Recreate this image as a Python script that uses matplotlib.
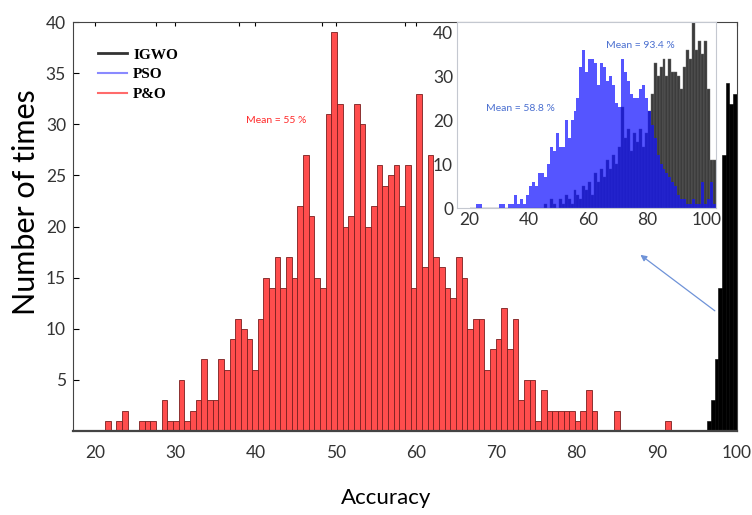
import numpy as np
import matplotlib
matplotlib.use("Agg")
import matplotlib.pyplot as plt
from matplotlib.lines import Line2D

# P&O histogram: 100 bins between the min and max accuracy
po_start, po_width = 23.86, 0.682
po_counts = [1, 0, 1, 2, 0, 0, 1, 1, 1, 0,
             3, 1, 1, 5, 1, 2, 3, 7, 3, 3,
             7, 6, 9, 11, 10, 9, 6, 11, 15, 14,
             17, 14, 17, 15, 22, 27, 21, 15, 14, 31,
             39, 32, 20, 21, 32, 30, 20, 22, 26, 24,
             25, 26, 22, 26, 14, 33, 16, 27, 17, 16,
             14, 13, 17, 15, 10, 11, 11, 6, 8, 9,
             12, 8, 11, 3, 5, 5, 1, 4, 2, 2,
             2, 2, 2, 1, 2, 4, 2, 0, 0, 0,
             2, 0, 0, 0, 0, 0, 0, 0, 0, 1]

# IGWO in the main axes, squeezed against 100 %
igwo_start, igwo_width = 96.4, 0.45
igwo_counts = [1, 3, 7, 14, 27, 34, 32, 33]

# zoomed view: one-unit bins from 20 to 104
zoom_start = 20
pso_zoom = [0, 0, 1, 1, 0, 0, 0, 0, 0, 0,
            1, 1, 0, 1, 1, 3, 1, 2, 1, 3,
            5, 6, 5, 8, 8, 7, 10, 14, 13, 17,
            14, 14, 20, 16, 20, 22, 25, 32, 36, 31,
            34, 34, 33, 28, 33, 32, 29, 30, 28, 24,
            23, 34, 31, 29, 26, 25, 25, 27, 28, 25,
            22, 19, 16, 12, 10, 9, 8, 7, 6, 5,
            3, 2, 2, 1, 1, 2, 1, 1, 6, 1,
            2, 6, 1, 0]
igwo_zoom = [0] * 25 + [
            1, 0, 2, 1, 0, 2, 1, 3, 2, 1,
            4, 3, 2, 5, 4, 6, 3, 8, 6, 9,
            7, 11, 9, 12, 10, 14, 23, 16, 18, 13,
            17, 15, 18, 14, 17, 22, 26, 33, 30, 32,
            34, 30, 34, 31, 31, 30, 27, 32, 36, 34,
            45, 36, 38, 35, 38, 27, 11, 11, 0]

bottom_labels = ['20', '30', '40', '50', '60', '70', '80', '90', '100']
# the label row is spread evenly from just right of the axis corner to its end
bottom_label_pos = np.linspace(22.65, 100.0, len(bottom_labels))

fig = plt.figure(figsize=(7.52, 5.15), dpi=100)
ax = fig.add_axes([0.097, 0.163, 0.883, 0.794])

po_edges = po_start + po_width * np.arange(len(po_counts))
ax.bar(po_edges, po_counts, width=po_width, align='edge', color='#ff4d4d',
       edgecolor='#7a1f1f', linewidth=0.6, zorder=2)
igwo_edges = igwo_start + igwo_width * np.arange(len(igwo_counts))
ax.bar(igwo_edges, igwo_counts, width=igwo_width, align='edge', color='black',
       edgecolor='black', linewidth=0.4, zorder=2)

ax.set_xlim(20, 100)
ax.set_ylim(0, 40)
ax.set_xticks(bottom_label_pos, bottom_labels)
ax.tick_params(axis='x', bottom=False, top=True, labelbottom=True, direction='in',
               length=3, pad=10, labelsize=12.5, labelcolor='#333333')
ax.set_yticks([5, 10, 15, 20, 25, 30, 35, 40])
ax.tick_params(axis='y', direction='in', length=4, pad=5, labelsize=12.5,
               labelcolor='#333333')
for lab in ax.get_xticklabels() + ax.get_yticklabels():
    lab.set_family('Lato')
# top ticks at the real decades
top = ax.secondary_xaxis('top')
top.set_xticks(np.arange(30, 100, 10))
top.tick_params(direction='in', length=3, labeltop=False)
top.spines['top'].set_visible(False)
for s in ax.spines.values():
    s.set_color('#444444')
ax.spines['bottom'].set_linewidth(1.6)

ax.set_xlabel('Accuracy', family='Lato', fontsize=16)
ax.xaxis.set_label_coords(0.471, -0.14)
ax.set_ylabel('Number of times', family='Lato', fontsize=22)
ax.yaxis.set_label_coords(-0.05, 0.56)

ax.text(44.5, 30.4, 'Mean = 55 %', color='#ff2a2a', fontsize=7.5,
        family='Lato', ha='center', va='center')

ax.annotate('', xy=(88.1, 17.4), xytext=(97.6, 11.6),
            arrowprops=dict(arrowstyle='-|>', color='#6f93d8', lw=0.9,
                            mutation_scale=9))

handles = [Line2D([], [], color='#333333', lw=2),
           Line2D([], [], color='#8a8aff', lw=1.5),
           Line2D([], [], color='#ff6b6b', lw=1.5)]
ax.legend(handles, ['IGWO', 'PSO', 'P&O'], loc='upper left',
          bbox_to_anchor=(0.0377, 0.937), frameon=False, borderpad=0,
          borderaxespad=0, handlelength=1.9, handletextpad=0.4,
          labelspacing=0.4,
          prop={'family': 'Liberation Serif', 'weight': 'bold', 'size': 11})

# inset with the full PSO / IGWO distributions
ins = fig.add_axes([0.608, 0.596, 0.344, 0.361])
zoom_edges = zoom_start + np.arange(len(pso_zoom))
ins.bar(zoom_edges, igwo_zoom, width=1, align='edge', color='#3c3c3c',
        edgecolor='#6a6a6a', linewidth=0.3)
ins.bar(zoom_edges, pso_zoom, width=1, align='edge', color='#1414ff',
        alpha=0.72, linewidth=0)
ins.set_xlim(15.8, 103)
ins.set_ylim(0, 42.3)
ins.set_xticks([20, 40, 60, 80, 100])
ins.set_yticks([0, 10, 20, 30, 40])
ins.tick_params(length=0, labelsize=12.5, labelcolor='#333333', pad=3)
for lab in ins.get_xticklabels() + ins.get_yticklabels():
    lab.set_family('Lato')
for s in ins.spines.values():
    s.set_color('#c4c8d0')
ins.text(37.2, 22.7, 'Mean = 58.8 %', color='#4a6fd0', fontsize=7.5,
         family='Lato', ha='center', va='center')
ins.text(77.6, 37.0, 'Mean = 93.4 %', color='#4a6fd0', fontsize=7.5,
         family='Lato', ha='center', va='center')

fig.savefig('out.png', dpi=100)
